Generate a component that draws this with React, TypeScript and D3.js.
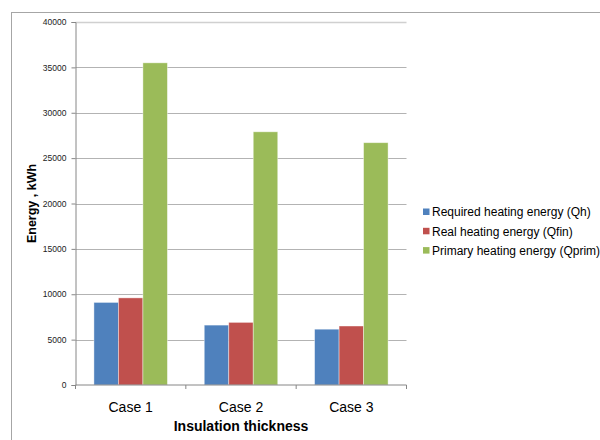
import { useEffect, useRef } from "react";
import * as d3 from "d3";

const categories = ["Case 1", "Case 2", "Case 3"];
const seriesNames = [
  "Required heating energy (Qh)",
  "Real heating energy (Qfin)",
  "Primary heating energy (Qprim)",
];
const requiredEnergy = [9100, 6600, 6150];
const realEnergy = [9600, 6900, 6500];
const primaryEnergy = [35500, 27900, 26700];
const seriesColors = ["#4f81bd", "#c0504d", "#9bbb59"];
const yTicks = [0, 5000, 10000, 15000, 20000, 25000, 30000, 35000, 40000];

export default function App() {
  const svgRef = useRef<SVGSVGElement>(null);

  useEffect(() => {
    if (!svgRef.current) return;
    const svg = d3.select(svgRef.current);
    svg.selectAll("*").remove();

    const width = 600;
    const height = 440;
    const plot = { left: 75.5, right: 406.5, top: 22, bottom: 385 };
    const series = [requiredEnergy, realEnergy, primaryEnergy];
    const font = "Liberation Sans, Arial, sans-serif";

    // outer chart border
    svg
      .append("rect")
      .attr("x", 11.5)
      .attr("y", 12.5)
      .attr("width", width)
      .attr("height", height)
      .attr("fill", "#fff")
      .attr("stroke", "#a6a6a6");

    const x0 = d3
      .scaleBand()
      .domain(categories)
      .range([plot.left, plot.right])
      .paddingInner(0.334)
      .paddingOuter(0.167);

    const x1 = d3
      .scaleBand<number>()
      .domain(d3.range(series.length))
      .range([0, x0.bandwidth()]);

    const y = d3.scaleLinear().domain([0, 40000]).range([plot.bottom, plot.top]);

    // gridlines
    svg
      .append("g")
      .selectAll("line")
      .data(yTicks.filter((t) => t > 0))
      .enter()
      .append("line")
      .attr("x1", plot.left)
      .attr("x2", plot.right)
      .attr("y1", (d) => Math.round(y(d)) + 0.5)
      .attr("y2", (d) => Math.round(y(d)) + 0.5)
      .attr("stroke", (d) => (d === 40000 ? "#d0d0d0" : "#b3b3b3"))
      .attr("stroke-width", (d) => (d === 40000 ? 1.5 : 1));

    // bars
    const groups = svg
      .append("g")
      .selectAll("g")
      .data(categories)
      .enter()
      .append("g")
      .attr("transform", (d) => `translate(${x0(d)},0)`);

    groups
      .selectAll("rect")
      .data((_, i) => series.map((s, k) => ({ k, v: s[i] })))
      .enter()
      .append("rect")
      .attr("x", (d) => x1(d.k)!)
      .attr("y", (d) => y(d.v))
      .attr("width", x1.bandwidth())
      .attr("height", (d) => y(0) - y(d.v))
      .attr("fill", (d) => seriesColors[d.k])
      .attr("stroke", "#fff")
      .attr("stroke-opacity", 0.5)
      .attr("stroke-width", 0.8);

    // y axis
    const yAxis = d3
      .axisLeft(y)
      .tickValues(yTicks)
      .tickSize(4)
      .tickPadding(5)
      .tickFormat((d) => String(d));
    const yg = svg
      .append("g")
      .attr("transform", `translate(${plot.left},0)`)
      .call(yAxis);
    yg.select(".domain").attr("stroke", "#868686");
    yg.selectAll(".tick line").attr("stroke", "#868686");
    yg.selectAll(".tick text")
      .attr("font-family", font)
      .attr("font-size", 8.5)
      .attr("fill", "#222");

    // x axis
    const xAxis = d3.axisBottom(x0).tickSize(0).tickPadding(17);
    const xg = svg
      .append("g")
      .attr("transform", `translate(0,${plot.bottom})`)
      .call(xAxis);
    xg.select(".domain").attr("stroke", "#868686").attr("d", `M${plot.left},0H${plot.right}`);
    xg.selectAll(".tick text")
      .attr("font-family", font)
      .attr("font-size", 14)
      .attr("fill", "#000");
    // category boundary ticks
    xg.selectAll(".boundary")
      .data(d3.range(categories.length + 1))
      .enter()
      .append("line")
      .attr("x1", (i) => plot.left + i * x0.step())
      .attr("x2", (i) => plot.left + i * x0.step())
      .attr("y1", 0)
      .attr("y2", 4)
      .attr("stroke", "#868686");

    // axis titles
    svg
      .append("text")
      .attr("x", (plot.left + plot.right) / 2)
      .attr("y", 431)
      .attr("text-anchor", "middle")
      .attr("font-family", font)
      .attr("font-size", 14)
      .attr("font-weight", "bold")
      .text("Insulation thickness");

    svg
      .append("text")
      .attr("transform", `translate(36,${(plot.top + plot.bottom) / 2}) rotate(-90)`)
      .attr("text-anchor", "middle")
      .attr("font-family", font)
      .attr("font-size", 12.5)
      .attr("font-weight", "bold")
      .text("Energy , kWh");

    // legend
    const legend = svg.append("g").attr("transform", "translate(423,212)");
    seriesNames.forEach((name, i) => {
      legend
        .append("rect")
        .attr("x", 0)
        .attr("y", i * 19.3 - 3.5)
        .attr("width", 6.5)
        .attr("height", 6.5)
        .attr("fill", seriesColors[i]);
      legend
        .append("text")
        .attr("x", 9)
        .attr("y", i * 19.3 + 4.3)
        .attr("font-family", font)
        .attr("font-size", 12)
        .attr("fill", "#000")
        .text(name);
    });
  }, []);

  return (
    <svg
      ref={svgRef}
      width={600}
      height={440}
      style={{ position: "absolute", left: 0, top: 0, background: "#fff" }}
    ></svg>
  );
}
